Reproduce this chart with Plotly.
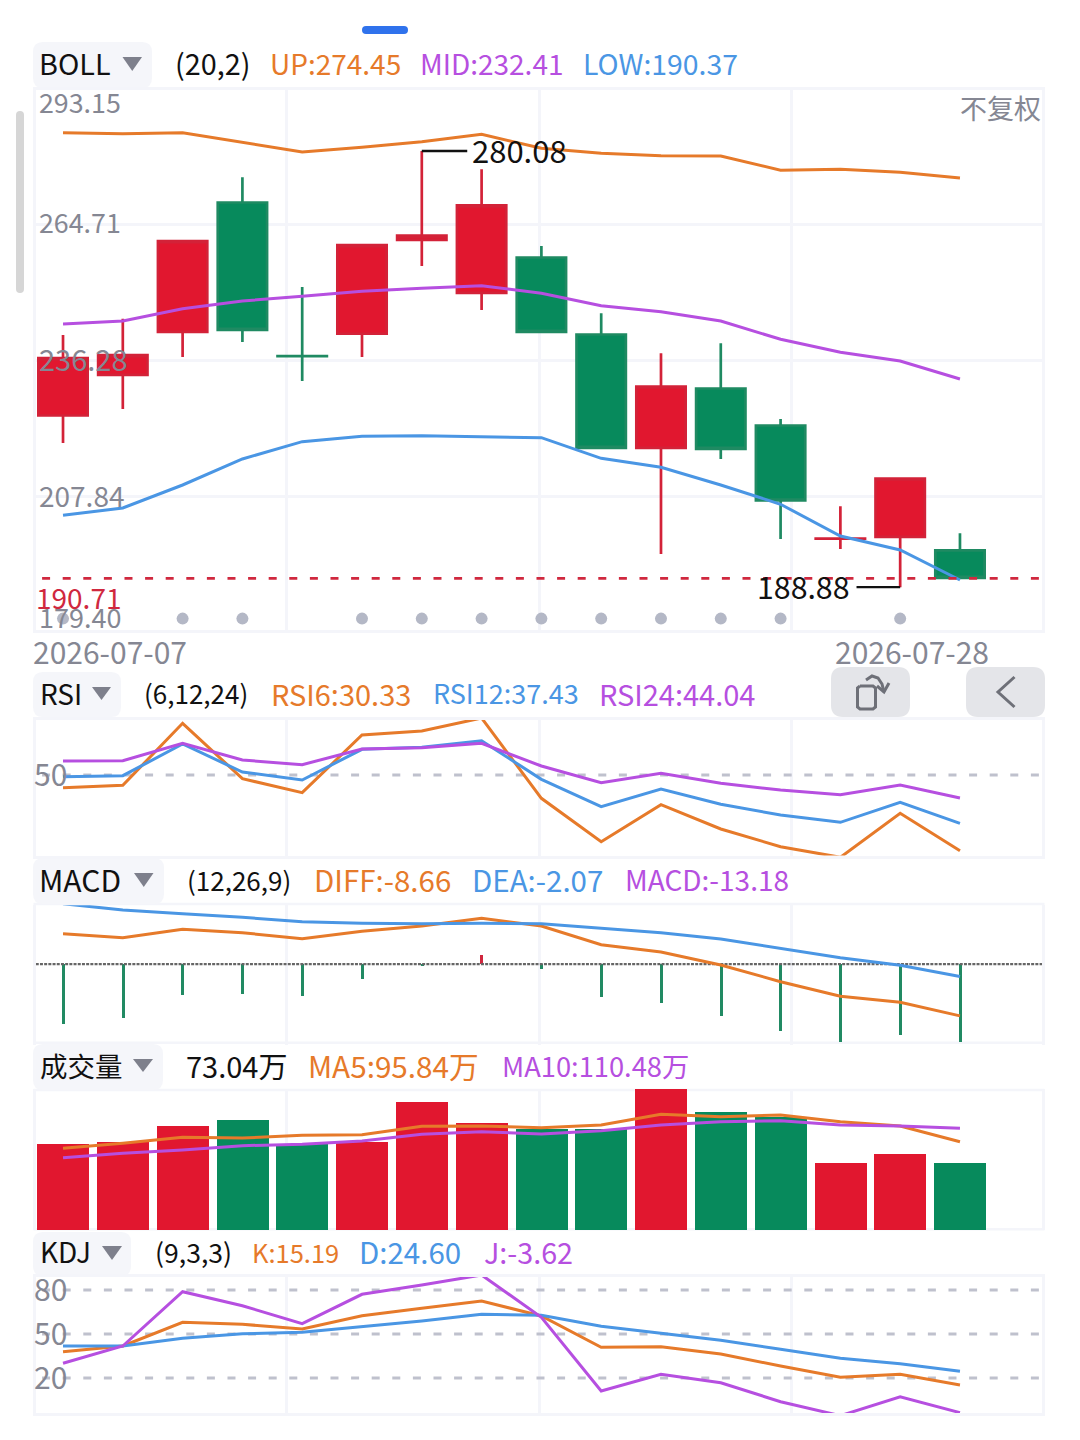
import plotly.graph_objects as go

W = 1080
H = 1440
FONT = "Noto Sans CJK SC, Noto Sans, sans-serif"

ORANGE = "#E67A2A"
PURPLE = "#B64FE0"
BLUE = "#4A96E4"
RED = "#E1172F"
GREEN = "#078A5C"
GRID = "#F4F5FA"
GRAY = "#858793"
DASH_GRAY = "#BFC1CD"

# Candles
opens = [224.77, 233.28, 242.27, 269.31, 237.20, 241.86, 261.48, 250.43,
         257.81, 241.71, 218.02, 230.42, 222.68, 199.02, 199.41, 196.55]
closes = [236.76, 237.38, 261.22, 242.69, 237.16, 260.38, 262.38, 268.69,
          242.27, 218.02, 230.84, 217.81, 207.00, 199.04, 211.60, 190.83]
highs = [241.61, 245.02, 261.22, 274.58, 251.64, 260.38, 280.08, 276.25,
         260.22, 246.14, 237.78, 239.87, 224.04, 205.79, 211.60, 200.14]
lows = [219.02, 226.13, 237.01, 240.14, 231.99, 237.01, 256.03, 246.83,
        242.27, 218.02, 195.81, 215.68, 198.95, 196.86, 188.88, 190.83]

# BOLL
boll_up = [283.91, 283.70, 283.91, 281.90, 279.87, 280.85, 282.03, 283.57,
           280.65, 279.60, 279.10, 279.04, 276.05, 276.25, 275.63, 274.45]
boll_mid = [243.91, 244.53, 247.11, 248.72, 249.70, 250.74, 251.37, 251.91,
            250.33, 247.73, 246.48, 244.53, 240.71, 237.99, 236.17, 232.41]
boll_low = [203.91, 205.43, 210.24, 215.68, 219.30, 220.42, 220.55, 220.34,
            220.13, 215.82, 213.94, 210.24, 206.21, 199.58, 196.65, 190.37]
dot_days = [0, 2, 3, 5, 6, 7, 8, 9, 10, 11, 12, 14]
dot_level = 182.3
last_price = 190.71

# RSI
rsi6 = [46.70, 47.32, 63.44, 49.04, 45.40, 60.40, 61.44, 64.82,
        43.94, 32.66, 42.28, 35.96, 31.36, 28.60, 40.04, 30.33]
rsi12 = [49.56, 49.82, 58.06, 50.78, 48.70, 56.68, 57.20, 58.92,
         48.88, 41.76, 46.36, 42.38, 39.60, 37.70, 42.90, 37.43]
rsi24 = [53.64, 53.72, 58.24, 53.90, 52.68, 56.76, 57.10, 58.24,
         52.34, 48.00, 50.44, 47.84, 46.10, 44.88, 47.40, 44.04]

# MACD
diff = [5.11, 4.44, 5.85, 5.28, 4.28, 5.52, 6.41, 7.70,
        6.41, 3.27, 2.05, -0.13, -2.93, -5.38, -6.39, -8.66]
dea = [10.15, 9.09, 8.47, 7.87, 7.13, 6.86, 6.79, 6.86,
       6.79, 6.07, 5.28, 4.23, 2.72, 1.09, -0.18, -2.07]
macd = [-10.08, -9.14, -5.17, -5.00, -5.45, -2.53, -0.42, 1.54,
        -0.80, -5.55, -6.62, -8.74, -11.20, -13.10, -11.99, -13.18]

# Volume, in 万
volume = [93.0, 95.8, 112.5, 119.1, 93.3, 95.5, 139.2, 115.8,
          109.3, 109.3, 152.7, 127.7, 123.0, 72.7, 82.8, 73.04]
vol_ma5 = [88.7, 94.1, 100.6, 99.8, 102.8, 103.4, 112.5, 112.9,
           111.0, 114.0, 125.6, 123.0, 124.8, 117.5, 112.9, 95.84]
vol_ma10 = [78.5, 83.2, 86.8, 91.5, 93.0, 96.6, 103.9, 106.7,
            104.2, 107.8, 114.0, 117.5, 118.6, 114.0, 112.9, 110.48]

# KDJ
kdj_k = [37.93, 41.82, 57.98, 56.61, 53.41, 62.48, 67.52, 72.50,
         62.27, 40.93, 41.34, 36.36, 28.18, 20.48, 22.52, 15.19]
kdj_d = [41.82, 41.82, 47.07, 50.20, 51.16, 54.77, 58.86, 63.43,
         62.75, 55.25, 50.48, 45.70, 39.57, 33.43, 29.75, 24.60]
kdj_j = [30.02, 41.82, 78.84, 69.29, 57.02, 77.07, 83.41, 90.23,
         61.39, 11.14, 22.52, 16.80, 3.84, -5.70, 7.25, -3.62]

days = list(range(16))
x_grid = [3.73, 7.96, 12.19]
x_range = [-0.456, 16.376]
x_end = 16.376
dash_start = -0.35

# name, top px, bottom px, y range, horizontal grid, draw top and bottom border
# MACD and volume run a little past their borders because plotly stops bars at the axis range
panels = [
    ("", 90.25, 630, [179.92, 292.78], [207.84, 236.28, 264.71], True),
    ("2", 719.5, 855.5, [29.07, 64.43], [], True),
    ("3", 905.3, 1045, [-13.55, 9.88], [], False),
    ("4", 1089, 1230, [0, 153], [], False),
    ("5", 1276.6, 1413, [-3.86, 89.14], [], True),
]


def px(x):
    return x / W


def py(y):
    return 1 - y / H


def round_rect(x0, y0, x1, y1, r, color):
    rx = r / W
    ry = r / H
    a, b, c, d = px(x0), py(y0), px(x1), py(y1)
    path = (f"M{a + rx},{b} L{c - rx},{b} Q{c},{b} {c},{b - ry} L{c},{d + ry} Q{c},{d} {c - rx},{d} "
            f"L{a + rx},{d} Q{a},{d} {a},{d + ry} L{a},{b - ry} Q{a},{b} {a + rx},{b} Z")
    return dict(type="path", xref="paper", yref="paper", path=path,
                fillcolor=color, line_width=0, layer="below")


def triangle(x0, x1, y0, y1):
    path = f"M{px(x0)},{py(y0)} L{px(x1)},{py(y0)} L{px((x0 + x1) / 2)},{py(y1)} Z"
    return dict(type="path", xref="paper", yref="paper", path=path,
                fillcolor="#7E808C", line_width=0)


def stroke(points, color="#6E7078", width=3):
    path = "M" + " L".join(f"{px(x)},{py(y)}" for x, y in points)
    return dict(type="path", xref="paper", yref="paper", path=path,
                line=dict(color=color, width=width))


def border(y):
    return dict(type="line", xref="paper", yref="paper", x0=px(33.5), x1=px(1044.5), y0=py(y), y1=py(y),
                line=dict(color=GRID, width=2.5), layer="below")


def text(x, y, s, color="#111111", size=28, anchor="left"):
    return dict(x=px(x), y=py(y), xref="paper", yref="paper", text=s, showarrow=False,
                xanchor=anchor, yanchor="middle", borderpad=0, borderwidth=0,
                font=dict(family=FONT, size=size, color=color))


fig = go.Figure()


def line(y, color, axis="", xs=days, width=3, dash=None):
    fig.add_trace(go.Scatter(
        x=xs, y=y, mode="lines", cliponaxis=False,
        line=dict(color=color, width=width, dash=dash),
        xaxis="x" + axis, yaxis="y" + axis, hoverinfo="skip"))


def level(value, axis, color=DASH_GRAY):
    line([value, value], color, axis, [dash_start, x_end], 2.8, "8px,12.6px")


# BOLL panel
fig.add_trace(go.Candlestick(
    x=days, open=opens, high=highs, low=lows, close=closes, whiskerwidth=0,
    increasing=dict(line=dict(color="#D32238", width=2.7), fillcolor=RED),
    decreasing=dict(line=dict(color="#1F8A62", width=2.7), fillcolor=GREEN),
    xaxis="x", yaxis="y", hoverinfo="skip"))
line(boll_up, ORANGE)
line(boll_mid, PURPLE)
line(boll_low, BLUE)
level(last_price, "", "#D0283E")
fig.add_trace(go.Scatter(
    x=dot_days, y=[dot_level] * len(dot_days), mode="markers",
    marker=dict(color="#B4B8C6", size=12), xaxis="x", yaxis="y", hoverinfo="skip"))
line([highs[6], highs[6]], "#111111", "", [6, 6.76], 2.4)
line([lows[14], lows[14]], "#111111", "", [13.27, 14], 2.4)

# RSI panel
level(50, "2")
line(rsi6, ORANGE, "2")
line(rsi12, BLUE, "2")
line(rsi24, PURPLE, "2")

# MACD panel
fig.add_trace(go.Bar(
    x=days, y=macd, width=0.05,
    marker=dict(color=["#D0263E" if v > 0 else "#218A63" for v in macd], line_width=0),
    xaxis="x3", yaxis="y3", hoverinfo="skip"))
line([0, 0], "#666666", "3", [x_range[0], x_end], 2.2, "3px,1.2px")
line(diff, ORANGE, "3")
line(dea, BLUE, "3")

# Volume panel
fig.add_trace(go.Bar(
    x=days, y=volume, width=0.87,
    marker=dict(color=[RED if c >= o else GREEN for o, c in zip(opens, closes)], line_width=0),
    xaxis="x4", yaxis="y4", hoverinfo="skip"))
line(vol_ma5, ORANGE, "4")
line(vol_ma10, PURPLE, "4")

# KDJ panel
for v in [80, 50, 20]:
    level(v, "5")
line(kdj_k, ORANGE, "5")
line(kdj_d, BLUE, "5")
line(kdj_j, PURPLE, "5")

axes = {}
for name, top, bottom, y_range, y_grid, framed in panels:
    axes["xaxis" + name] = dict(
        domain=[px(35.75), px(1042.25)], range=x_range, anchor="y" + name,
        tickmode="array", tickvals=x_grid, showticklabels=False, ticks="",
        showgrid=True, gridcolor=GRID, gridwidth=2.5, zeroline=False,
        showline=framed, mirror=True, linecolor=GRID, linewidth=2.5,
        rangeslider=dict(visible=False), fixedrange=True)
    axes["yaxis" + name] = dict(
        domain=[py(bottom), py(top)], range=y_range, anchor="x" + name,
        tickmode="array", tickvals=y_grid, showticklabels=False, ticks="",
        showgrid=True, gridcolor=GRID, gridwidth=2.5, zeroline=False,
        showline=True, mirror=True, linecolor=GRID, linewidth=2.5, fixedrange=True)

shapes = [
    border(904),
    border(1042.7),
    border(1090),
    border(1229.3),
    # pills behind indicator names
    round_rect(33, 42, 152, 88, 10, "#F5F6FA"),
    round_rect(33, 672, 121, 717, 10, "#F5F6FA"),
    round_rect(33, 858, 164, 904, 10, "#F5F6FA"),
    round_rect(33, 1044, 163, 1090, 10, "#F5F6FA"),
    round_rect(33, 1232, 131, 1276, 10, "#F5F6FA"),
    # top handle and scrollbar
    round_rect(362, 26, 408, 34, 4, "#2F72EC"),
    round_rect(16, 111, 24, 293, 4, "#D6D6D6"),
    # buttons
    round_rect(831, 667, 910, 717, 12, "#E4E5E9"),
    round_rect(966, 667, 1045, 717, 12, "#E4E5E9"),
    triangle(122.5, 142, 57, 71),
    triangle(92, 111, 687, 700),
    triangle(134, 153.5, 873, 887),
    triangle(133, 153, 1059, 1072),
    triangle(102, 122, 1246, 1260),
    stroke([(1014.5, 677), (998, 692), (1014.5, 707)]),
    stroke([(860, 686), (873, 686), (875.5, 688), (875.5, 707), (873, 709),
            (860, 709), (857.5, 707), (857.5, 688), (860, 686)]),
    stroke([(866, 680), (872, 676), (878, 678), (882, 684), (884, 692)]),
    stroke([(877, 686), (884, 692), (889, 683)]),
]

annotations = [
    # BOLL
    text(39, 63, "BOLL", size=28.8),
    text(175, 63, "(20,2)", size=28.8),
    text(270, 63, "UP:274.45", ORANGE),
    text(420, 63, "MID:232.41", PURPLE),
    text(583, 63, "LOW:190.37", BLUE, 28.4),
    text(39, 102, "293.15", GRAY, 26.8),
    text(39, 221, "264.71", GRAY, 26.8),
    text(39, 358, "236.28", GRAY, 29),
    text(39, 495, "207.84", GRAY, 28),
    text(36, 597, "190.71", "#D0283E"),
    text(39, 616, "179.40", GRAY, 27),
    text(1041, 108, "不复权", GRAY, 27, "right"),
    dict(x=6.8, y=highs[6], xref="x", yref="y", text="280.08", showarrow=False, xanchor="left",
         yanchor="middle", yshift=1, font=dict(family=FONT, size=31, color="#111111")),
    dict(x=13.19, y=lows[14], xref="x", yref="y", text="188.88", showarrow=False, xanchor="right",
         yanchor="middle", yshift=1, font=dict(family=FONT, size=30.3, color="#111111")),
    text(33, 651, "2026-07-07", GRAY, 30),
    text(835, 651, "2026-07-28", GRAY, 30),
    # RSI
    text(40, 693, "RSI"),
    text(144, 693, "(6,12,24)", size=26),
    text(271, 693, "RSI6:30.33", ORANGE, 29),
    text(433, 693, "RSI12:37.43", BLUE, 27),
    text(599, 693, "RSI24:44.04", PURPLE, 29),
    text(34, 773, "50", GRAY, 30),
    # MACD
    text(39, 879, "MACD", size=30),
    text(187, 879, "(12,26,9)", size=26),
    text(314, 879, "DIFF:-8.66", ORANGE, 29.5),
    text(472, 879, "DEA:-2.07", BLUE, 29.5),
    text(625, 879, "MACD:-13.18", PURPLE),
    # Volume
    text(40, 1065, "成交量", size=27.5),
    text(186, 1065, "73.04万", size=29),
    text(308, 1065, "MA5:95.84万", ORANGE, 29.7),
    text(502, 1065, "MA10:110.48万", PURPLE, 27.3),
    # KDJ
    text(40, 1251, "KDJ"),
    text(155, 1251, "(9,3,3)", size=26.6),
    text(252, 1251, "K:15.19", ORANGE, 25.5),
    text(359, 1251, "D:24.60", BLUE, 29.5),
    text(484, 1251, "J:-3.62", PURPLE, 28.7),
    text(34, 1288, "80", GRAY, 30),
    text(34, 1332, "50", GRAY, 30),
    text(34, 1376, "20", GRAY, 30),
]

fig.update_layout(
    width=W, height=H, margin=dict(l=0, r=0, t=0, b=0),
    paper_bgcolor="white", plot_bgcolor="white", showlegend=False,
    boxgap=0.175, boxgroupgap=0, bargap=0, barmode="overlay",
    shapes=shapes, annotations=annotations, font=dict(family=FONT), **axes)

fig.write_html("out.html", post_script="document.body.style.margin='0';",
               config=dict(displayModeBar=False))
